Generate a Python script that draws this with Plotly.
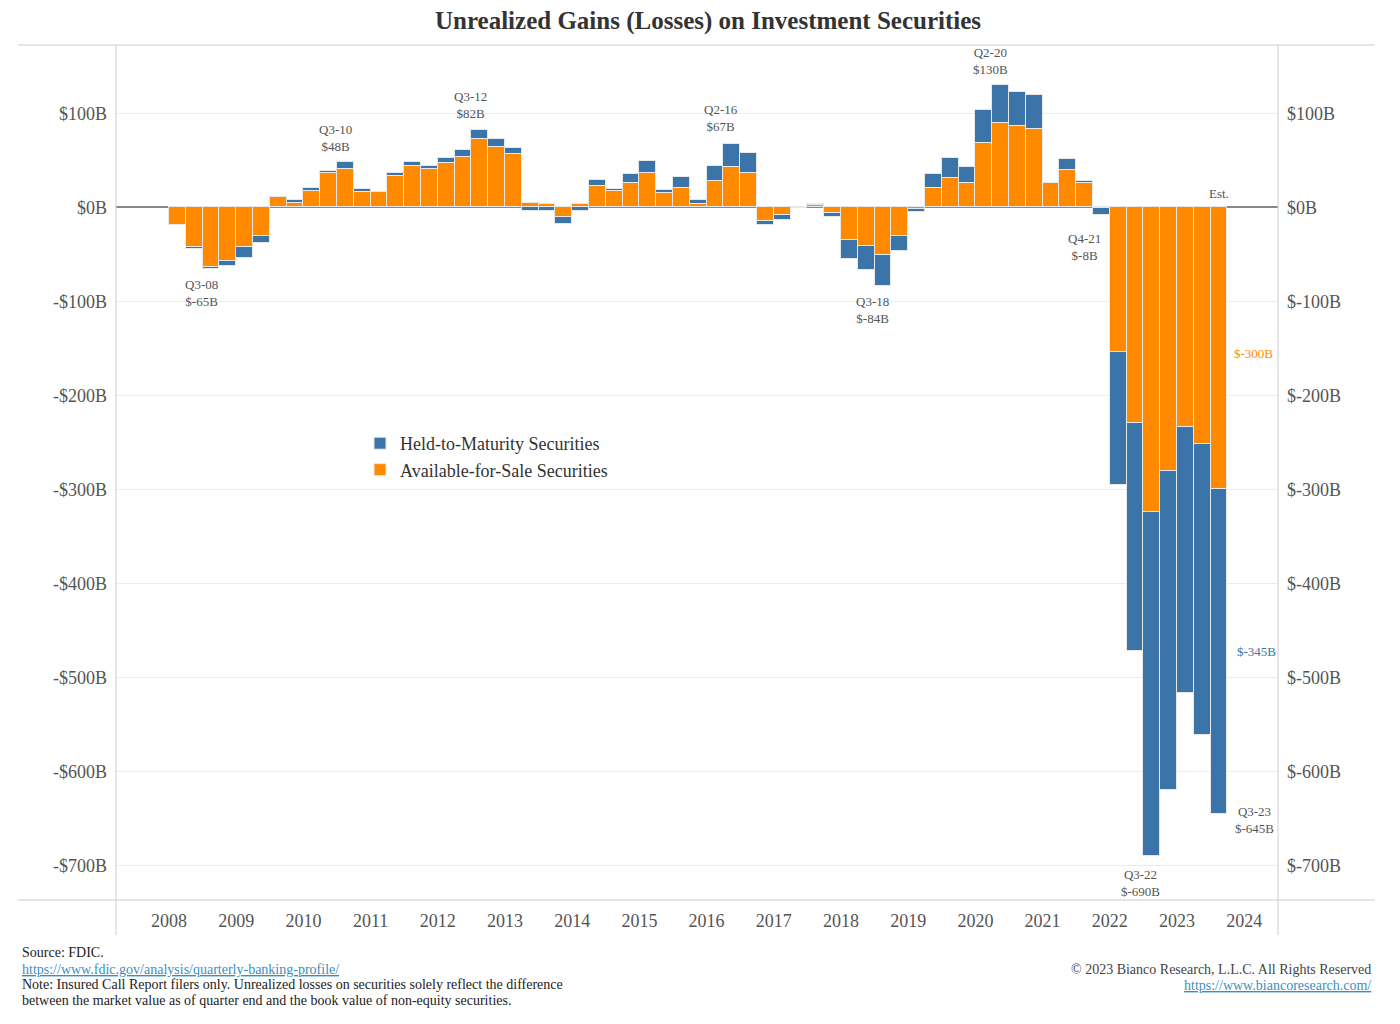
import plotly.graph_objects as go

quarters = [f"Q{q}-{y%100:02d}" for y in range(2008, 2024) for q in range(1, 5)][:63]
afs = [-19, -42.5, -63, -57, -42, -30, 11, 5, 17.5, 36, 41, 16, 16, 33, 44, 41, 47, 53, 73, 64, 57,
       5, 3.5, -10, 3.5, 23, 17.5, 26, 36, 15, 21, 4, 28, 42.5, 37, -15, -8.5, 0.5, 2.5, -6.5,
       -35, -41, -51, -30, -2, 21, 31, 26, 68, 90, 87, 83, 26, 40, 26, -1,
       -154, -229, -324, -280, -234, -252, -300]
htm = [0, -1.5, -2.5, -5, -12, -8, 0, 3, 3.5, 3, 7, 4, 0, 3, 4.5, 3, 5, 8, 9, 9, 6,
       -3.5, -3.5, -8, -3.5, 6, 2.5, 9, 13, 3, 11, 4, 16, 24.5, 21, -4, -5, -1, 1, -3.5,
       -20, -26, -33, -17, -3, 14, 21, 17, 35.5, 40, 36, 36.5, 0, 11, 2, -7,
       -141, -243, -366, -340, -283, -309, -345]
years = list(range(2008, 2025))
ytick_vals = [100, 0, -100, -200, -300, -400, -500, -600, -700]
left_text = ["$100B", "$0B"] + [f"-${-v}B" for v in ytick_vals[2:]]
right_text = ["$100B", "$0B"] + [f"$-{-v}B" for v in ytick_vals[2:]]

BLUE = "#3b74a8"
ORANGE = "#ff8a00"
FONT = "Liberation Serif"
x = list(range(len(quarters)))

OFF = 8  # page body offset
L, R, T, B = 116, 1278, 45, 900  # screen coords of plot area
def px2x(px):
    return (px - 169) / 16.8 - 0.5
def pxp(px):
    return (px - L) / (R - L)
def pyp(py):
    return (B - py) / (B - T)

fig = go.Figure()
fig.add_bar(x=x, y=afs, name="Available-for-Sale Securities", marker=dict(color=ORANGE, line=dict(color="#e8e8e8", width=1)),
            hovertext=quarters)
fig.add_bar(x=x, y=htm, name="Held-to-Maturity Securities", marker=dict(color=BLUE, line=dict(color="#e8e8e8", width=1)),
            hovertext=quarters)
fig.add_scatter(x=[0], y=[0], yaxis="y2", mode="markers", marker=dict(opacity=0), showlegend=False, hoverinfo="skip")

yr = [(207.3 - 900) / 0.94, (207.3 - 45) / 0.94]
fig.update_layout(
    width=1400, height=1024, barmode="relative", bargap=0.0,
    paper_bgcolor="white", plot_bgcolor="white",
    margin=dict(l=L - OFF, r=1400 - R + OFF, t=T - OFF, b=1024 - B + OFF),
    font=dict(family=FONT, color="#555", size=17),
    title=dict(text="<b>Unrealized Gains (Losses) on Investment Securities</b>", x=0.5, xanchor="center",
               y=1 - (20 - OFF) / 1024, yanchor="middle", font=dict(size=25, color="#333", family=FONT)),
    xaxis=dict(range=[px2x(L), px2x(R)], tickvals=[(y - 2008) * 4 - 0.5 for y in years],
               ticktext=[str(y) for y in years], showgrid=False, zeroline=False, ticks="",
               ticklabelstandoff=8, tickfont=dict(size=18, color="#555")),
    yaxis=dict(range=yr, tickvals=ytick_vals, ticktext=left_text, gridcolor="#ececec",
               zeroline=True, zerolinecolor="#888", zerolinewidth=2, ticks="", ticklabelstandoff=8,
               tickfont=dict(size=18, color="#555")),
    yaxis2=dict(range=yr, overlaying="y", side="right", tickvals=ytick_vals, ticktext=right_text,
                showgrid=False, zeroline=False, ticks="", ticklabelstandoff=8, tickfont=dict(size=18, color="#555")),
    legend=dict(x=pxp(360), y=pyp(425), xanchor="left", yanchor="top", traceorder="reversed",
                font=dict(size=18, color="#333"), bgcolor="rgba(0,0,0,0)", itemwidth=30, tracegroupgap=0),
    showlegend=True,
)

shapes = [
    dict(type="line", xref="paper", yref="paper", x0=pxp(18), x1=pxp(1375), y0=1, y1=1, line=dict(color="#ccc", width=1)),
    dict(type="line", xref="paper", yref="paper", x0=pxp(18), x1=pxp(1375), y0=0, y1=0, line=dict(color="#ccc", width=1)),
    dict(type="line", xref="paper", yref="paper", x0=0, x1=0, y0=pyp(935), y1=1, line=dict(color="#ccc", width=1)),
    dict(type="line", xref="paper", yref="paper", x0=1, x1=1, y0=pyp(935), y1=1, line=dict(color="#ccc", width=1)),
]
fig.update_layout(shapes=shapes)

def lab(text, px, val, anchor, color="#555", xa="center"):
    fig.add_annotation(x=px2x(px), y=val, text=text, showarrow=False, yanchor=anchor, xanchor=xa,
                       font=dict(size=13, color=color), align="center")

lab("Q3-08<br>$-65B", 201, -72, "top")
lab("Q3-10<br>$48B", 335, 55, "bottom")
lab("Q3-12<br>$82B", 470, 90, "bottom")
lab("Q2-16<br>$67B", 721, 76, "bottom")
lab("Q3-18<br>$-84B", 872, -90, "top")
lab("Q2-20<br>$130B", 990, 137, "bottom")
lab("Q4-21<br>$-8B", 1084, -23, "top")
lab("Q3-22<br>$-690B", 1140, -700, "top")
lab("Q3-23<br>$-645B", 1233, -652, "middle", xa="left")
lab("Est.", 1219, 15, "middle")
lab("$-300B", 1232, -156, "middle", color=ORANGE, xa="left")
lab("$-345B", 1235, -473, "middle", color=BLUE, xa="left")

def foot(text, px, py, xa="left", color="#222"):
    fig.add_annotation(xref="paper", yref="paper", x=pxp(px), y=pyp(py), text=text, showarrow=False,
                       xanchor=xa, yanchor="middle", align="left", font=dict(size=14, color=color))

foot("Source: FDIC.", 20, 953)
foot("<u>https://www.fdic.gov/analysis/quarterly-banking-profile/</u>", 20, 969, color="#3a8fc0")
foot("Note: Insured Call Report filers only. Unrealized losses on securities solely reflect the difference", 20, 984)
foot("between the market value as of quarter end and the book value of non-equity securities.", 20, 1000)
foot("© 2023 Bianco Research, L.L.C. All Rights Reserved", 1373, 969, xa="right", color="#444")
foot("<u>https://www.biancoresearch.com/</u>", 1373, 985, xa="right", color="#3a8fc0")

fig.write_html("out.html")
